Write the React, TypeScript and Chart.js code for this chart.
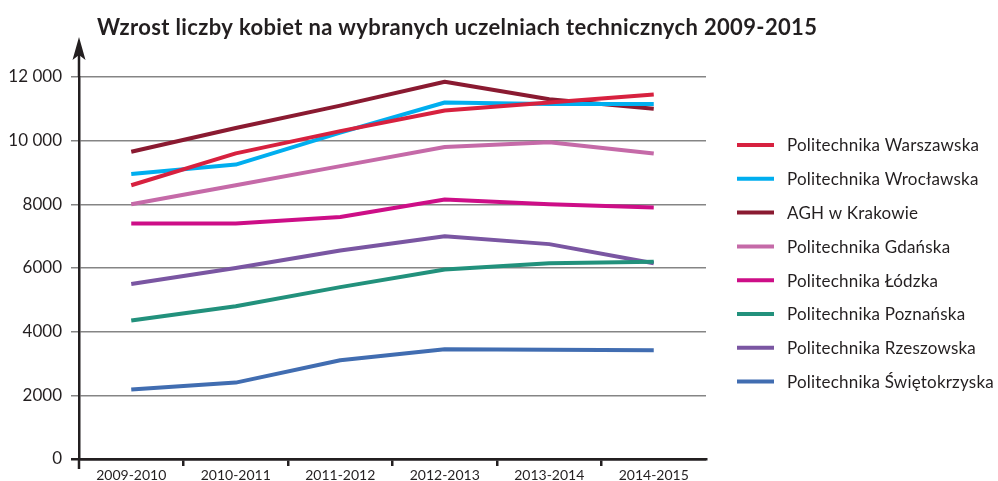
import React, { useEffect, useRef } from 'react';
import { Chart, registerables } from 'chart.js';

Chart.register(...registerables);

const TITLE = 'Wzrost liczby kobiet na wybranych uczelniach technicznych 2009-2015';
const categories = ['2009-2010', '2010-2011', '2011-2012', '2012-2013', '2013-2014', '2014-2015'];
const seriesNames = [
  'Politechnika Warszawska',
  'Politechnika Wrocławska',
  'AGH w Krakowie',
  'Politechnika Gdańska',
  'Politechnika Łódzka',
  'Politechnika Poznańska',
  'Politechnika Rzeszowska',
  'Politechnika Świętokrzyska',
];
const warszawska = [8600, 9600, 10300, 10950, 11200, 11450];
const wroclawska = [8950, 9250, 10250, 11200, 11150, 11150];
const agh = [9650, 10400, 11100, 11850, 11300, 11000];
const gdanska = [8000, 8600, 9200, 9800, 9950, 9600];
const lodzka = [7400, 7400, 7600, 8150, 8000, 7900];
const poznanska = [4350, 4800, 5400, 5950, 6150, 6200];
const rzeszowska = [5500, 6000, 6550, 7000, 6750, 6150];
const swietokrzyska = [2180, 2400, 3100, 3450, 3430, 3420];
const seriesValues = [warszawska, wroclawska, agh, gdanska, lodzka, poznanska, rzeszowska, swietokrzyska];
const seriesColors = ['#d7213f', '#00aeef', '#8a1a31', '#c56aa8', '#cd0e87', '#22917c', '#7a56a2', '#416db1'];
const yTickValues = [0, 2000, 4000, 6000, 8000, 10000, 12000];
const yTickLabels = ['0', '2000', '4000', '6000', '8000', '10 000', '12 000'];

const FONT = 'Lato, "Open Sans", "DejaVu Sans", sans-serif';
const DARK = '#231f20';
const GRID = '#858585';

const decorPlugin = {
  id: 'decor',
  afterDraw(chart: any) {
    const { ctx, chartArea } = chart;
    const yScale = chart.scales.y;
    const x = yScale.right;
    ctx.save();
    // title
    ctx.fillStyle = DARK;
    ctx.font = `bold 22px ${FONT}`;
    try { (ctx as any).letterSpacing = '0.35px'; } catch (e) {}
    ctx.textBaseline = 'alphabetic';
    ctx.textAlign = 'left';
    ctx.fillText(TITLE, 97, 35);
    // axis extension and arrow
    ctx.strokeStyle = DARK;
    ctx.lineWidth = 2.5;
    ctx.beginPath();
    ctx.moveTo(x, chartArea.top - 26);
    ctx.lineTo(x, chartArea.top);
    ctx.moveTo(x, chartArea.bottom);
    ctx.lineTo(x, chartArea.bottom + 10);
    ctx.stroke();
    ctx.fillStyle = DARK;
    ctx.beginPath();
    const tip = chartArea.top - 40;
    ctx.moveTo(x, tip);
    ctx.lineTo(x + 6.5, tip + 23);
    ctx.lineTo(x, tip + 18);
    ctx.lineTo(x - 6.5, tip + 23);
    ctx.closePath();
    ctx.fill();
    // legend
    ctx.font = `17px ${FONT}`;
    try { (ctx as any).letterSpacing = '0.2px'; } catch (e) {}
    ctx.textBaseline = 'middle';
    chart.data.datasets.forEach((ds: any, i: number) => {
      const y = 145 + i * 33.8;
      ctx.strokeStyle = ds.borderColor;
      ctx.lineWidth = 4;
      ctx.beginPath();
      ctx.moveTo(737, y);
      ctx.lineTo(774, y);
      ctx.stroke();
      ctx.fillStyle = DARK;
      ctx.fillText(ds.label, 787, y + 1);
    });
    ctx.restore();
  },
};

export default function App() {
  const ref = useRef<HTMLCanvasElement | null>(null);
  useEffect(() => {
    if (!ref.current) return;
    const chart = new Chart(ref.current, {
      type: 'line',
      data: {
        labels: categories,
        datasets: seriesNames.map((name, i) => ({
          label: name,
          data: seriesValues[i],
          borderColor: seriesColors[i],
          backgroundColor: seriesColors[i],
          borderWidth: 4,
          pointRadius: 0,
          pointHoverRadius: 0,
          tension: 0,
          fill: false,
          borderCapStyle: 'butt',
          borderJoinStyle: 'round',
        })),
      },
      options: {
        responsive: false,
        animation: false,
        events: [],
        layout: { padding: { top: 77, right: 292, left: 0, bottom: 0 } },
        plugins: { legend: { display: false }, title: { display: false }, tooltip: { enabled: false } },
        scales: {
          x: {
            type: 'category',
            offset: true,
            afterFit: (s: any) => { s.height = 22; },
            grid: {
              offset: true,
              drawOnChartArea: false,
              drawTicks: true,
              tickLength: 7,
              lineWidth: 2.5,
              color: (c: any) => (c.type !== 'tick' || c.index === 0 ? 'rgba(0,0,0,0)' : DARK),
            },
            border: { display: true, color: DARK, width: 2.5 },
            ticks: { color: DARK, font: { family: FONT, size: 14 }, padding: 1, maxRotation: 0, autoSkip: false },
          },
          y: {
            min: 0,
            max: 12000,
            afterFit: (s: any) => { s.width = 79; },
            afterBuildTicks: (s: any) => { s.ticks = yTickValues.map((v) => ({ value: v })); },
            grid: {
              drawTicks: true,
              tickLength: 8,
              color: (c: any) => (c.tick && c.tick.value === 0 ? DARK : GRID),
              lineWidth: (c: any) => (c.tick && c.tick.value === 0 ? 2.5 : 1.5),
            },
            border: { display: true, color: DARK, width: 2.5 },
            ticks: {
              color: DARK,
              font: { family: FONT, size: 17 },
              padding: 9,
              callback: (v: any) => yTickLabels[yTickValues.indexOf(Number(v))] ?? String(v),
            },
          },
        },
      },
      plugins: [decorPlugin],
    } as any);
    return () => chart.destroy();
  }, []);
  return (
    <canvas ref={ref} width={998} height={481} style={{ position: 'absolute', left: 0, top: 0 }} />
  );
}
